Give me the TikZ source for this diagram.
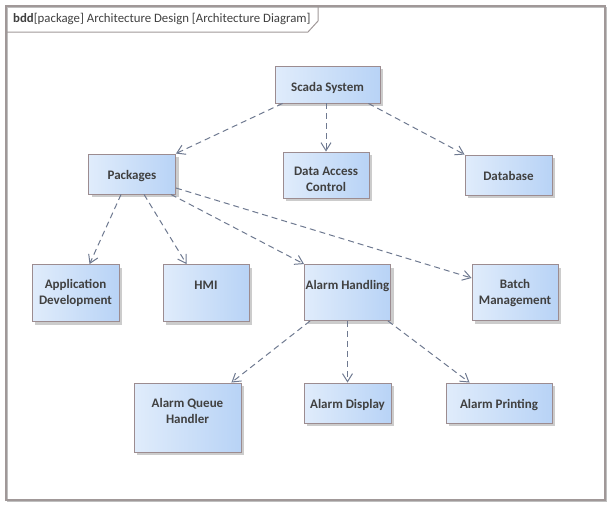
\documentclass[tikz,border=0pt]{standalone}
\usepackage{fontspec}
\setmainfont{Carlito}
\usetikzlibrary{arrows.meta,shadows}
\definecolor{boxborder}{HTML}{9C8C90}
\definecolor{boxleft}{HTML}{E0ECFB}
\definecolor{boxright}{HTML}{B8D3F6}
\definecolor{linkcol}{HTML}{6E7990}
\definecolor{txt}{HTML}{404040}
\definecolor{framecol}{HTML}{A09898}
\tikzset{
  blk/.style={draw=boxborder, line width=0.9pt, left color=boxleft, right color=boxright,
    inner sep=0pt,
    drop shadow={shadow xshift=3pt, shadow yshift=-3pt, fill=black!20, opacity=1}},
  lbl/.style={anchor=north, yshift=-15.5pt, inner sep=0pt, label distance=0pt,
    text=txt, font=\bfseries\fontsize{13}{16}\selectfont, align=center,
    execute at begin node={\rule{0pt}{10pt}}},
  dep/.style={draw=linkcol, line width=1pt, dash pattern=on 6pt off 4pt,
    -{Straight Barb[length=8pt,width=10pt,line width=1pt]}}
}
\begin{document}
\begin{tikzpicture}[x=1pt,y=-1pt, label distance=0pt]
\useasboundingbox (0,0) rectangle (611,506);
% frame
\draw[black!25, line width=1pt] (7.5,7.5) rectangle (606.5,501.5);
\draw[framecol, line width=1.2pt] (6,6) rectangle (605,500);
\draw[framecol, line width=1pt] (6,32) -- (308,32) -- (318,21) -- (318,6);
\node[anchor=base west, inner sep=0pt, text=txt, font=\fontsize{12.8}{14}\selectfont] (hdr) at (13,23)
  {\textbf{bdd}[package] Architecture Design [Architecture Diagram]};
% nodes
\node[blk, minimum width=105pt, minimum height=37pt, label={[lbl]north:Scada System}] (scada) at (327.5,84.5) {};
\node[blk, minimum width=87pt, minimum height=40pt, label={[lbl]north:Packages}] (packages) at (132,174) {};
\node[blk, minimum width=86pt, minimum height=46pt, label={[lbl]north:{Data Access\\Control}}] (dac) at (326,175) {};
\node[blk, minimum width=87pt, minimum height=40pt, label={[lbl]north:Database}] (database) at (508.5,175) {};
\node[blk, minimum width=87pt, minimum height=57pt, label={[lbl]north:{Application\\Development}}] (appdev) at (75.5,293) {};
\node[blk, minimum width=86pt, minimum height=57pt, label={[lbl]north:HMI}] (hmi) at (206,293) {};
\node[blk, minimum width=86pt, minimum height=56pt, label={[lbl]north:Alarm Handling}] (ah) at (347.5,292.5) {};
\node[blk, minimum width=86pt, minimum height=56pt, label={[lbl]north:{Batch\\Management}}] (batch) at (515,292.5) {};
\node[blk, minimum width=107pt, minimum height=69pt, label={[lbl]north:{Alarm Queue\\Handler}}] (aqh) at (187.5,417.5) {};
\node[blk, minimum width=87pt, minimum height=40pt, label={[lbl]north:Alarm Display}] (ad) at (347.5,403) {};
\node[blk, minimum width=106pt, minimum height=40pt, label={[lbl]north:Alarm Printing}] (ap) at (499,403) {};
% connectors
\draw[dep] ([xshift=8pt]scada.south west) -- (packages.north east);
\draw[dep] (dac.north |- scada.south) -- (dac.north);
\draw[dep] ([xshift=-12pt]scada.south east) -- (database.north west);
\draw[dep] ([xshift=33pt]packages.south west) -- ([xshift=58pt]appdev.north west);
\draw[dep] ([xshift=56pt]packages.south west) -- ([xshift=24pt]hmi.north west);
\draw[dep] ([xshift=-5pt]packages.south east) -- (ah.north west);
\draw[dep] ([yshift=-14pt]packages.east) -- ([yshift=14.5pt]batch.west);
\draw[dep] ([xshift=6pt]ah.south west) -- ([xshift=-10pt]aqh.north east);
\draw[dep] (ah.south) -- (ad.north);
\draw[dep] ([xshift=-3pt]ah.south east) -- ([xshift=24pt]ap.north west);
\end{tikzpicture}
\end{document}
